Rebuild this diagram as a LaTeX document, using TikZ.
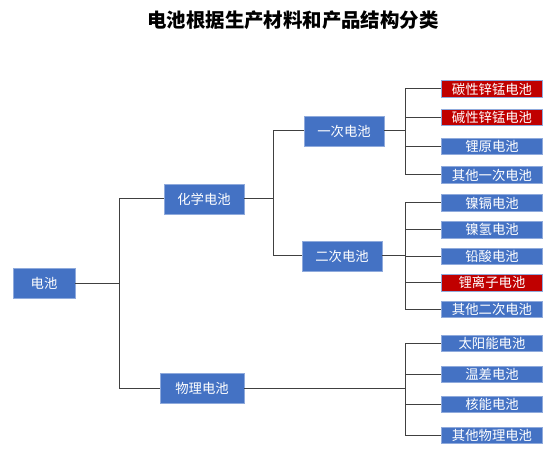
\documentclass[tikz,border=0pt]{standalone}
\usepackage{fontspec}
\setmainfont{Noto Sans CJK SC}
\definecolor{boxblue}{HTML}{4472C4}
\definecolor{boxred}{HTML}{C00000}
\definecolor{edgeblue}{HTML}{8FAADC}
\definecolor{linegray}{HTML}{404040}
\begin{document}
\begin{tikzpicture}[x=1bp, y=-1bp,
    box/.style={fill=boxblue, draw=edgeblue, line width=0.5bp, text=white,
        inner sep=0pt, minimum height=30bp, font=\fontsize{13.4}{13.4}\selectfont},
    leaf/.style={box, minimum width=101bp, minimum height=16.5bp},
    hot/.style={leaf, fill=boxred},
    link/.style={draw=linegray, line width=1bp}]
\useasboundingbox (0,0) rectangle (554,455);

% Title
\node[font=\bfseries\fontsize{19.5}{20}\selectfont] (title) at (293,20) {电池根据生产材料和产品结构分类};

% Root and the two main classes
\node[box, minimum width=62bp] (bat) at (44,283) {电池};
\node[box, minimum width=80bp] (chem) at (204,199) {化学电池};
\node[box, minimum width=84bp] (phys) at (202,388) {物理电池};

% Chemical batteries split in two
\node[box, minimum width=80bp] (prim) at (344,131) {一次电池};
\node[box, minimum width=80bp] (sec) at (342,256) {二次电池};

% Leaves — primary
\foreach \n/\y/\s/\t in {p1/89/hot/碳性锌锰电池, p2/117.5/hot/碱性锌锰电池,
    p3/146.5/leaf/锂原电池, p4/175/leaf/其他一次电池} {
    \node[\s] (\n) at (492,\y) {\t};
}

% Leaves — secondary
\foreach \n/\y/\s/\t in {s1/203/leaf/镍镉电池, s2/229.7/leaf/镍氢电池,
    s3/256.3/leaf/铅酸电池, s4/282.5/hot/锂离子电池, s5/309/leaf/其他二次电池} {
    \node[\s] (\n) at (492,\y) {\t};
}

% Leaves — physical
\foreach \n/\y/\t in {h1/343.3/太阳能电池, h2/374/温差电池,
    h3/404.3/核能电池, h4/435/其他物理电池} {
    \node[leaf] (\n) at (492,\y) {\t};
}

% Fork points
\coordinate (f0) at (119.5,283);
\coordinate (f1) at (273,199);
\coordinate (f2) at (405,131);
\coordinate (f3) at (405,256);
\coordinate (f4) at (405,388);

% Connectors
\draw[link] (bat) -- (f0);
\draw[link] (f0) |- (chem);
\draw[link] (f0) |- (phys);
\draw[link] (chem) -- (f1);
\draw[link] (f1) |- (prim);
\draw[link] (f1) |- (sec);
\draw[link] (prim) -- (f2);
\foreach \n in {p1,p2,p3,p4} \draw[link] (f2) |- (\n);
\draw[link] (sec) -- (f3);
\foreach \n in {s1,s2,s3,s4,s5} \draw[link] (f3) |- (\n);
\draw[link] (phys) -- (f4);
\foreach \n in {h1,h2,h3,h4} \draw[link] (f4) |- (\n);

\end{tikzpicture}
\end{document}
